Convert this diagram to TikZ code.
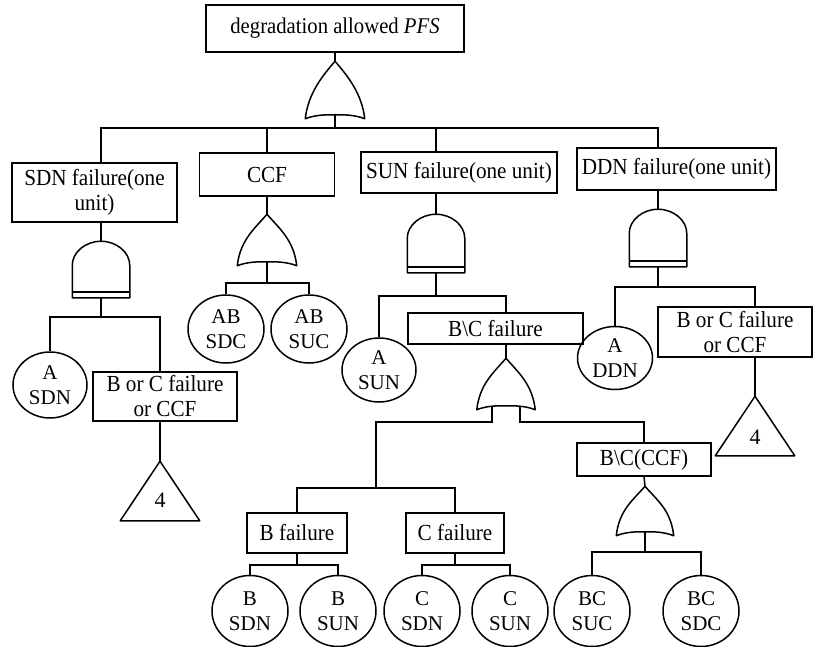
\documentclass[tikz,border=0pt]{standalone}
\usepackage{fontspec}
\setmainfont{Liberation Serif}[FakeStretch=0.92]
\newfontfamily\evfont{Liberation Serif}
\usepackage{tikz}
\usetikzlibrary{positioning,shapes.geometric}

\newcommand{\drawor}[1]{%
  \draw[gate] (#1.south west)
    .. controls +(3,-26) and +(-12,14) .. (#1.north)
    .. controls +(12,14) and +(-3,-26) .. (#1.south east)
    .. controls +(-10,-4) and +(9,0) .. ([yshift=4pt]#1.south)
    .. controls +(-9,0) and +(10,-4) .. (#1.south west) -- cycle;
  \coordinate (#1-out) at ([yshift=4pt]#1.south);}
\newcommand{\drawand}[1]{%
  \draw[gate] (#1.south west) -- ([yshift=-24pt]#1.north west)
    .. controls +(0,-13) and +(-15.5,0) .. (#1.north)
    .. controls +(15.5,0) and +(0,-13) .. ([yshift=-24pt]#1.north east)
    -- (#1.south east) -- cycle;
  \draw[gate] ([yshift=6pt]#1.south west) -- ([yshift=6pt]#1.south east);}
\newcommand{\drawtri}[1]{%
  \draw[gate] (#1.north) -- (#1.south east) -- (#1.south west) -- cycle;}

\begin{document}
\begin{tikzpicture}[x=1pt, y=-1pt,
  line width=1.5pt,
  box/.style={draw, rectangle, inner xsep=2pt, inner ysep=1pt, align=center,
    font=\fontsize{23}{25}\selectfont},
  ev/.style={draw, ellipse, inner sep=0pt, align=center,
    font=\evfont\fontsize{21}{25}\selectfont},
  gatebox/.style={rectangle, inner sep=0pt},
  gate/.style={line join=round},
  num/.style={inner sep=0pt, font=\evfont\fontsize{22}{25}\selectfont}
]
\useasboundingbox (0,0) rectangle (813,647);

% top event
\node[box, minimum width=258, minimum height=47, font=\fontsize{22.5}{25}\selectfont] (top) at (335,28.5) {degradation allowed \textit{PFS}};
\node[gatebox, minimum width=58, minimum height=56] (g0) at (335,90) {};
\drawor{g0}

% second level
\node[box, minimum width=165, minimum height=59] (sdnf) at (94.5,192.5) {SDN failure(one\\unit)};
\node[box, minimum width=135, minimum height=43] (ccf) at (267,174.5) {CCF};
\node[box, minimum width=196, minimum height=41] (sunf) at (459,172.5) {SUN failure(one unit)};
\node[box, minimum width=199, minimum height=42] (ddnf) at (676.5,169) {DDN failure(one unit)};

\node[gatebox, minimum width=56, minimum height=55] (g1) at (101,269.5) {};
\node[gatebox, minimum width=58, minimum height=50] (g2) at (267,240) {};
\node[gatebox, minimum width=56, minimum height=57] (g3) at (436,243.5) {};
\node[gatebox, minimum width=56, minimum height=56] (g4) at (658,238) {};
\drawand{g1}
\drawor{g2}
\drawand{g3}
\drawand{g4}

% SDN branch
\node[ev, minimum width=74, minimum height=66] (asdn) at (50,385) {A\\SDN};
\node[box, minimum width=144, minimum height=49] (bcl) at (165,396.5) {B or C failure\\or CCF};
\node[gatebox, minimum width=78, minimum height=58] (tri1) at (160,491) {};
\node[num] (four1) at (160,500) {4};
\drawtri{tri1}

% CCF branch
\node[ev, minimum width=76, minimum height=68] (absdc) at (226,329) {AB\\SDC};
\node[ev, minimum width=76, minimum height=68] (absuc) at (309,329) {AB\\SUC};

% SUN branch
\node[ev, minimum width=74, minimum height=64] (asun) at (379,370) {A\\SUN};
\node[box, minimum width=175, minimum height=31] (bcf) at (495.5,328.5) {B\textbackslash C failure};
\node[gatebox, minimum width=57, minimum height=50] (g5) at (506,384) {};
\drawor{g5}
\node[box, minimum width=134, minimum height=33] (bcccf) at (644,459.5) {B\textbackslash C(CCF)};
\node[gatebox, minimum width=56, minimum height=48] (g6) at (645,511) {};
\drawor{g6}
\node[box, minimum width=100, minimum height=40] (bf) at (297,533) {B failure};
\node[box, minimum width=98, minimum height=40] (cf) at (455,533) {C failure};

\node[ev, minimum width=76, minimum height=71] (bsdn) at (250,611) {B\\SDN};
\node[ev, minimum width=76, minimum height=71] (bsun) at (338,611) {B\\SUN};
\node[ev, minimum width=76, minimum height=71] (csdn) at (422,611) {C\\SDN};
\node[ev, minimum width=76, minimum height=71] (csun) at (510,611) {C\\SUN};
\node[ev, minimum width=76, minimum height=71] (bcsuc) at (592,611) {BC\\SUC};
\node[ev, minimum width=76, minimum height=71] (bcsdc) at (701,611) {BC\\SDC};

% DDN branch
\node[ev, minimum width=75, minimum height=63] (addn) at (615,358) {A\\DDN};
\node[box, minimum width=154, minimum height=50] (bcr) at (735,332) {B or C failure\\or CCF};
\node[gatebox, minimum width=78, minimum height=58] (tri2) at (755,426) {};
\node[num] (four2) at (755,437) {4};
\drawtri{tri2}

\coordinate (bus1) at (0,128);
\coordinate (bus2) at (0,317);
\coordinate (bus3) at (0,283);
\coordinate (bus4) at (0,296);
\coordinate (bus5) at (0,287);
\coordinate (k1) at (376,422);
\coordinate (bus6) at (0,488);
\coordinate (bus7) at (0,565);
\coordinate (bus8) at (0,552);

\draw (top.south) -- (g0.north);
\draw (g0-out) -- (g0 |- bus1);
\draw (g1 |- sdnf.north) |- (g4 |- bus1) -- (g4 |- ddnf.north);
\draw (ccf.north) -- (ccf |- bus1);
\draw (g3 |- sunf.north) -- (g3 |- bus1);

\draw (g1 |- sdnf.south) -- (g1.north);
\draw (ccf.south) -- (g2.north);
\draw (g3 |- sunf.south) -- (g3.north);
\draw (g4 |- ddnf.south) -- (g4.north);

\draw (g1.south) -- (g1 |- bus2);
\draw (asdn.north) |- (tri1 |- bus2) -- (tri1 |- bcl.north);
\draw (tri1 |- bcl.south) -- (tri1.north);

\draw (g2-out) -- (g2 |- bus3);
\draw (absdc.north) |- (absuc |- bus3) -- (absuc.north);

\draw (g3.south) -- (g3 |- bus4);
\draw (asun.north) |- (g5 |- bus4) -- (g5 |- bcf.north);
\draw (g5 |- bcf.south) -- (g5.north);
\draw ([xshift=-14pt,yshift=3pt]g5.south) |- (k1) -- (k1 |- bus6);
\draw ([xshift=14pt,yshift=3pt]g5.south) |- (bcccf |- k1) -- (bcccf.north);
\draw (bf.north) |- (cf |- bus6) -- (cf.north);
\draw (bf.south) -- (bf |- bus7);
\draw (bsdn.north) |- (bsun |- bus7) -- (bsun.north);
\draw (cf.south) -- (cf |- bus7);
\draw (csdn.north) |- (csun |- bus7) -- (csun.north);
\draw (bcccf.south) -- (g6.north);
\draw (g6-out) -- (g6 |- bus8);
\draw (bcsuc.north) |- (bcsdc |- bus8) -- (bcsdc.north);

\draw (g4.south) -- (g4 |- bus5);
\draw (addn.north) |- (tri2 |- bus5) -- (tri2 |- bcr.north);
\draw (tri2 |- bcr.south) -- (tri2.north);
\end{tikzpicture}
\end{document}
